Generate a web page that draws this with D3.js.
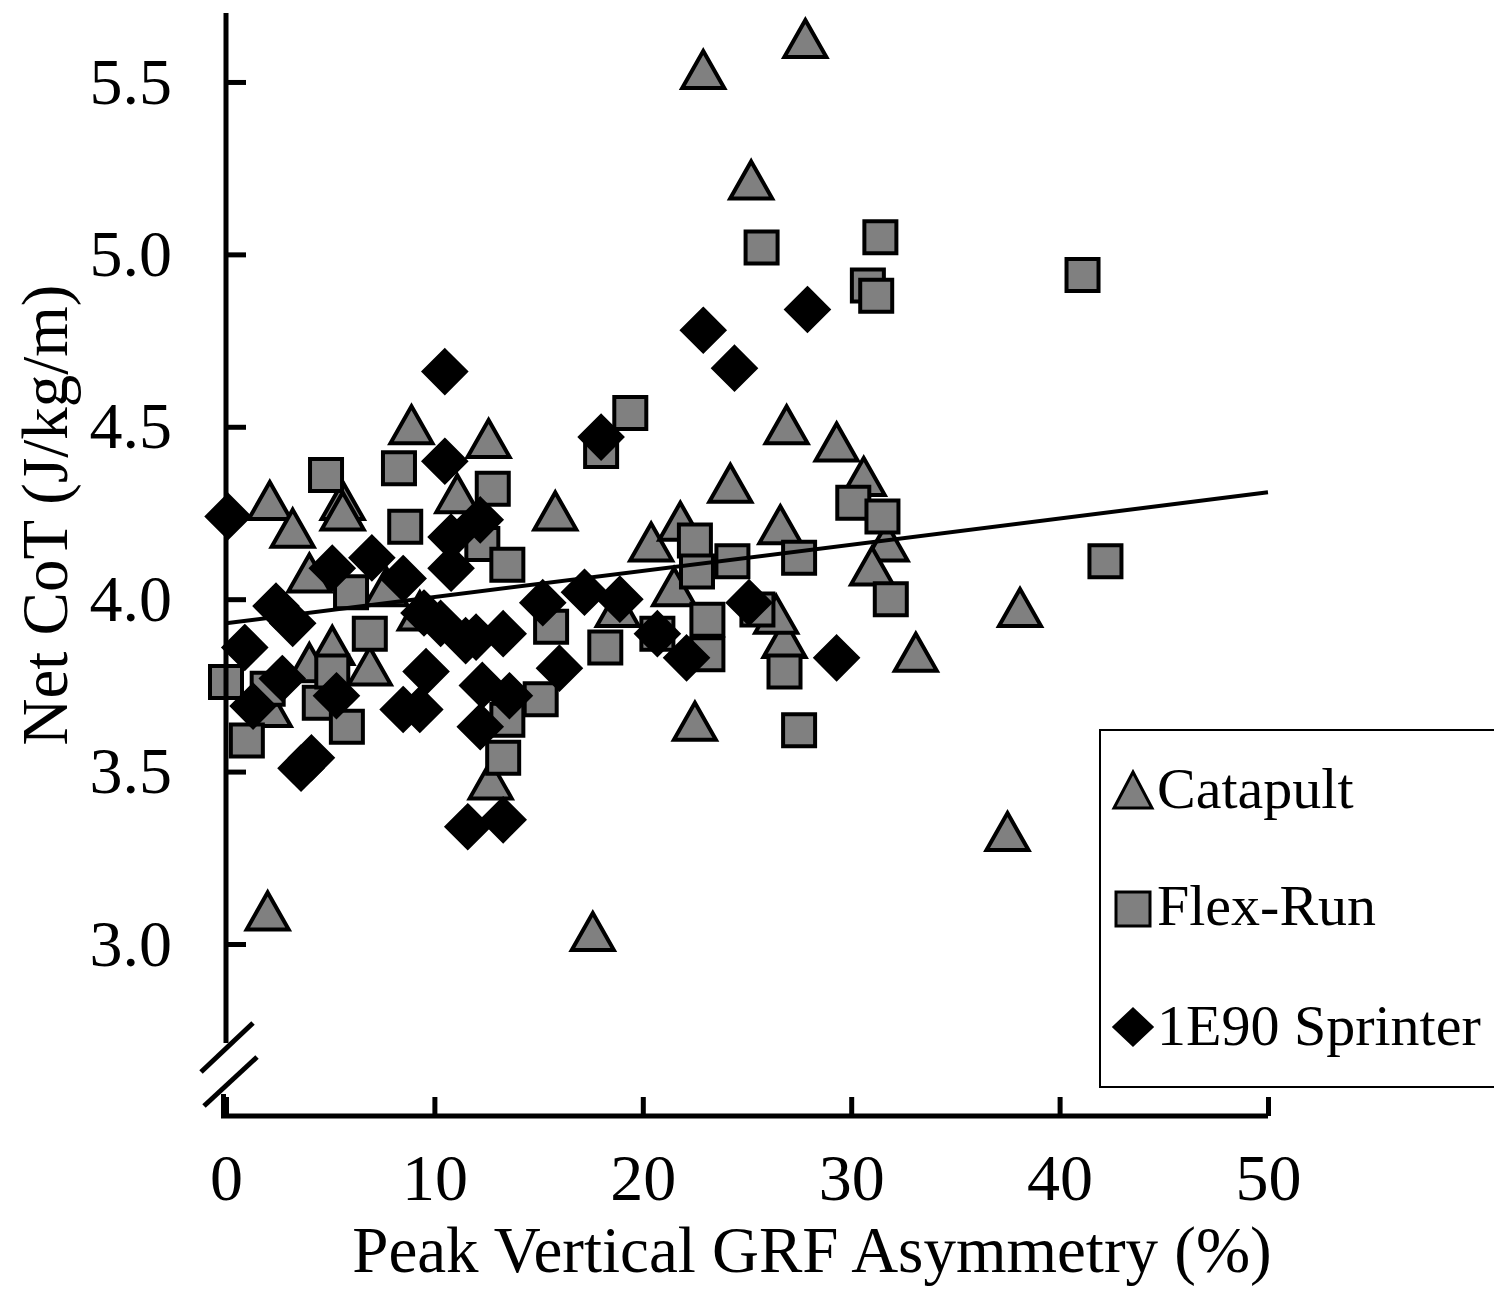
<!DOCTYPE html>
<html><head><meta charset="utf-8">
<script src="https://cdn.jsdelivr.net/npm/d3@7"></script>
<style>body{margin:0;background:#fff}svg{display:block}text{font-family:"Liberation Serif","Times New Roman",serif;fill:#000}</style>
</head><body>
<svg id="c" width="1494" height="1289"></svg>
<script>
// ---- data ----
const catapultX = [27.8,22.9,25.2,8.9,12.6,26.9,29.3,24.2,2.1,3.2,5.6,5.6,11.1,15.8,20.4,21.8,26.6,30.6,31.7,31.0,38.1,33.1,37.5,2.0,17.6,22.5,12.7,21.5,26.8,26.4,4.0,5.1,4.0,6.9,2.1,7.7,18.8,9.3];
const catapultY = [5.61,5.52,5.20,4.49,4.45,4.49,4.44,4.32,4.27,4.19,4.27,4.24,4.29,4.24,4.15,4.21,4.20,4.34,4.15,4.08,3.96,3.83,3.31,3.08,3.02,3.63,3.46,4.02,3.87,3.94,4.06,3.85,3.80,3.79,3.67,4.02,3.96,3.95];
const flexX = [25.7,31.4,30.8,31.2,41.1,19.4,18.0,4.8,8.3,8.6,12.8,12.3,13.5,22.5,24.3,22.6,27.5,30.1,31.5,31.9,42.2,25.5,23.1,20.7,23.1,18.2,15.6,15.1,13.5,13.3,26.8,27.5,0.0,1.0,2.0,4.5,5.1,5.8,6.0,6.9];
const flexY = [5.02,5.05,4.91,4.88,4.94,4.54,4.43,4.36,4.38,4.21,4.32,4.16,4.10,4.17,4.11,4.08,4.12,4.28,4.24,4.00,4.11,3.97,3.94,3.90,3.84,3.86,3.92,3.71,3.65,3.54,3.79,3.62,3.76,3.59,3.74,3.70,3.79,3.63,4.02,3.90];
const sprinterX = [0.1,0.9,1.3,2.4,3.2,2.7,3.6,4.1,5.3,5.1,7.0,8.5,8.5,9.6,9.3,10.3,10.5,10.5,10.8,10.8,12.2,11.5,12.0,13.3,12.3,13.6,12.2,11.6,13.3,15.2,16.0,17.2,18.9,18.0,20.7,22.1,22.9,24.4,25.1,27.9,29.3,9.5];
const sprinterY = [4.24,3.86,3.69,3.98,3.93,3.77,3.51,3.54,3.72,4.09,4.12,4.06,3.68,3.79,3.68,3.93,4.66,4.40,4.18,4.09,4.23,3.88,3.89,3.90,3.75,3.72,3.63,3.34,3.36,3.99,3.80,4.02,4.00,4.47,3.90,3.83,4.78,4.67,3.99,4.84,3.83,3.96];
const xTicks = [0,10,20,30,40,50];
const yTicks = [3.0,3.5,4.0,4.5,5.0,5.5];
const fitX = [0,50];
const fitY = [3.93,4.31];
const seriesNames = ["Catapult","Flex-Run","1E90 Sprinter"];

// ---- chart ----
const svg = d3.select("#c");
const x = d3.scaleLinear().domain([0,50]).range([226,1268]);
const y = d3.scaleLinear().domain([2.5,5.7]).range([1116.4,13.0]);

const tri = "M0,-24L21,13L-21,13Z";
const sq = "M-16,-16H16V16H-16Z";
const dia = "M0,-21L21,0L0,21L-21,0Z";

const pts = (xs,ys)=>xs.map((v,i)=>({x:v,y:ys[i]}));
const g = svg.append("g");
function drawSeries(data, path, fill){
  g.selectAll(null).data(data).enter().append("path")
   .attr("d", path)
   .attr("transform", d=>`translate(${x(d.x)},${y(d.y)})`)
   .attr("fill", fill).attr("stroke","#000").attr("stroke-width",4).attr("stroke-linejoin","miter");
}
drawSeries(pts(catapultX,catapultY), tri, "#808080");
drawSeries(pts(flexX,flexY), sq, "#808080");
drawSeries(pts(sprinterX,sprinterY), dia, "#000");

// fit line
svg.append("line").attr("x1",x(fitX[0])).attr("y1",y(fitY[0])).attr("x2",x(fitX[1])).attr("y2",y(fitY[1]))
  .attr("stroke","#000").attr("stroke-width",4);

// axes
const xAxis = d3.axisBottom(x).tickValues(xTicks).tickSize(-19).tickPadding(40).tickFormat(d3.format("d"));
const xg = svg.append("g").attr("transform","translate(0,1116)").call(xAxis);
xg.select(".domain").remove();
xg.selectAll(".tick line").attr("stroke","#000").attr("stroke-width",5);
xg.selectAll(".tick text").attr("font-size",66).attr("font-family","Liberation Serif").attr("fill","#000").attr("dy","0.71em").attr("y",37);

const yAxis = d3.axisLeft(y).tickValues(yTicks).tickSize(-20).tickPadding(54).tickFormat(d3.format(".1f"));
const yg = svg.append("g").attr("transform","translate(226,0)").call(yAxis);
yg.select(".domain").remove();
yg.selectAll(".tick line").attr("stroke","#000").attr("stroke-width",5);
yg.selectAll(".tick text").attr("font-size",66).attr("font-family","Liberation Serif").attr("fill","#000");

// axis lines with break
svg.append("line").attr("x1",226).attr("x2",226).attr("y1",y(5.7)).attr("y2",1043).attr("stroke","#000").attr("stroke-width",5);
svg.append("path").attr("d","M223.5,1094V1116H1268").attr("fill","none").attr("stroke","#000").attr("stroke-width",5);
svg.append("line").attr("x1",201).attr("y1",1072).attr("x2",253).attr("y2",1023).attr("stroke","#000").attr("stroke-width",5);
svg.append("line").attr("x1",204).attr("y1",1106).attr("x2",257).attr("y2",1057).attr("stroke","#000").attr("stroke-width",5);

// titles
svg.append("text").attr("x",812).attr("y",1272).attr("text-anchor","middle").attr("font-size",65).text("Peak Vertical GRF Asymmetry (%)");
svg.append("text").attr("transform","translate(67,515) rotate(-90)").attr("text-anchor","middle").attr("font-size",65).text("Net CoT (J/kg/m)");

// legend
const ltri = "M0,-20L19,16L-19,16Z";
const lsq = "M-17,-17H17V17H-17Z";
const ldia = "M0,-18L19,0L0,18L-19,0Z";
const lg = svg.append("g");
lg.append("rect").attr("x",1100).attr("y",730).attr("width",400).attr("height",357).attr("fill","#fff").attr("stroke","#000").attr("stroke-width",2);
const legendItems = [{name:seriesNames[0],d:ltri,fill:"#808080",cy:792,by:808},{name:seriesNames[1],d:lsq,fill:"#808080",cy:909,by:925},{name:seriesNames[2],d:ldia,fill:"#000",cy:1027,by:1045}];
legendItems.forEach(it=>{
  lg.append("path").attr("d",it.d).attr("transform",`translate(1133,${it.cy})`).attr("fill",it.fill).attr("stroke","#000").attr("stroke-width",3);
  lg.append("text").attr("x",1157).attr("y",it.by).attr("font-size",58).text(it.name);
});
</script>
</body></html>
